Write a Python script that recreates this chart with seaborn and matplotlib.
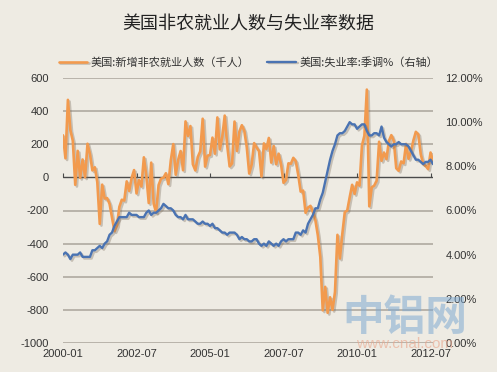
import numpy as np
import pandas as pd
import matplotlib
matplotlib.use("Agg")
import matplotlib.pyplot as plt
import matplotlib.patheffects as pe
import seaborn as sns

# ---------------- data ----------------
payrolls = [
    254, 115, 468, 286, 221, -45, 160, -3, 108, 0, 203, 141,          # 2000
    42, 61, -29, -281, -44, -128, -125, -160, -244, -325, -292, -178,  # 2001
    -135, -140, -24, -82, -4, 44, -97, -16, -55, 121, 9, -155,         # 2002
    89, -159, -211, -47, -8, -2, 25, -41, 103, 201, 16, 105,           # 2003
    159, 43, 338, 250, 310, 79, 42, 123, 157, 354, 65, 131,            # 2004
    135, 240, 143, 362, 169, 245, 373, 194, 66, 84, 337, 159,          # 2005
    277, 315, 280, 182, 23, 78, 207, 181, 158, 5, 205, 171,            # 2006
    238, 89, 189, 79, 143, 78, -33, -16, 85, 82, 118, 97,              # 2007
    15, -86, -80, -214, -182, -172, -210, -259, -350, -480, -803, -661,  # 2008
    -818, -724, -800, -692, -347, -490, -340, -210, -200, -120, -45, -100,  # 2009
    -30, -50, 192, 251, 530, -175, -60, -50, -20, 215, 100, 150,       # 2010
    110, 220, 255, 220, 55, 40, 96, 85, 202, 112, 157, 223,            # 2011
    275, 260, 140, 80, 70, 50, 150, 96,                                # 2012
]
unemployment = [
    4.0, 4.1, 4.0, 3.8, 4.0, 4.0, 4.0, 4.1, 3.9, 3.9, 3.9, 3.9,
    4.2, 4.2, 4.3, 4.4, 4.3, 4.5, 4.6, 4.9, 5.0, 5.3, 5.5, 5.7,
    5.7, 5.7, 5.7, 5.9, 5.8, 5.8, 5.8, 5.7, 5.7, 5.7, 5.9, 6.0,
    5.8, 5.9, 5.9, 6.0, 6.1, 6.3, 6.2, 6.1, 6.1, 6.0, 5.8, 5.7,
    5.7, 5.6, 5.8, 5.6, 5.6, 5.6, 5.5, 5.4, 5.4, 5.5, 5.4, 5.4,
    5.3, 5.4, 5.2, 5.2, 5.1, 5.0, 5.0, 4.9, 5.0, 5.0, 5.0, 4.9,
    4.7, 4.8, 4.7, 4.7, 4.6, 4.6, 4.7, 4.7, 4.5, 4.4, 4.5, 4.4,
    4.6, 4.5, 4.4, 4.5, 4.4, 4.6, 4.7, 4.6, 4.7, 4.7, 4.7, 5.0,
    5.0, 4.9, 5.1, 5.0, 5.4, 5.6, 5.8, 6.1, 6.1, 6.5, 6.8, 7.3,
    7.8, 8.3, 8.7, 9.0, 9.4, 9.5, 9.5, 9.6, 9.8, 10.0, 9.9, 9.9,
    9.7, 9.8, 9.9, 9.9, 9.6, 9.4, 9.4, 9.5, 9.5, 9.4, 9.8, 9.3,
    9.1, 9.0, 8.9, 9.0, 9.0, 9.1, 9.0, 9.0, 9.0, 8.9, 8.7, 8.5,
    8.3, 8.3, 8.2, 8.1, 8.2, 8.2, 8.3, 8.1,
]
month_index = list(range(len(payrolls)))
xtick_pos = [0, 30, 60, 90, 120, 150]
xtick_labels = ["2000-01", "2002-07", "2005-01", "2007-07", "2010-01", "2012-07"]
left_ticks = [600, 400, 200, 0, -200, -400, -600, -800, -1000]
right_ticks = [0, 2, 4, 6, 8, 10, 12]

title = "美国非农就业人数与失业率数据"
label_pay = "美国:新增非农就业人数（千人）"
label_unemp = "美国:失业率:季调%（右轴）"

df = pd.DataFrame({"month": month_index, "payrolls": payrolls, "unemployment": unemployment})

# ---------------- style ----------------
BG = "#EEEBE3"
ORANGE = "#F29A4E"
BLUE = "#4A73B2"
sns.set_theme(style="white")
plt.rcParams["font.family"] = ["Noto Sans CJK SC", "DejaVu Sans"]

fig = plt.figure(figsize=(4.97, 3.72), dpi=100, facecolor=BG)
ax = fig.add_axes([63 / 497, 1 - 343 / 372, (433 - 63) / 497, (343 - 78) / 372])
ax.set_facecolor(BG)
ax2 = ax.twinx()

shadow = [pe.SimpleLineShadow(offset=(1.2, -1.2), shadow_color="#7a6a5a", alpha=0.35), pe.Normal()]

sns.lineplot(data=df, x="month", y="payrolls", ax=ax, color=ORANGE, linewidth=1.9,
             label=label_pay, legend=False, zorder=3)
sns.lineplot(data=df, x="month", y="unemployment", ax=ax2, color=BLUE, linewidth=1.7,
             label=label_unemp, legend=False, zorder=3)
ax.lines[0].set_path_effects(shadow)
ax2.lines[0].set_path_effects(shadow)

ax.set_xlim(0, len(payrolls) - 1)
ax.set_ylim(-1000, 600)
ax2.set_ylim(0, 12)

# grid
for v in left_ticks:
    if v == 0:
        continue
    ax.axhline(v, color="#A9A49B", linewidth=1.1, zorder=1)
ax.axhline(0, color="#4a4a4a", linewidth=1.0, zorder=2)

for s in ["top", "right", "left", "bottom"]:
    ax.spines[s].set_visible(False)
    ax2.spines[s].set_visible(False)

tick_font = dict(family=["Liberation Sans", "DejaVu Sans"], size=8, color="#333333")
ax.set_yticks(left_ticks)
ax.set_yticklabels([str(v) for v in left_ticks], **tick_font)
ax.tick_params(axis="y", length=0, pad=10)
ax2.set_yticks(right_ticks)
ax2.set_yticklabels([f"{v:.2f}%" for v in right_ticks], **tick_font)
ax2.tick_params(axis="y", length=0, pad=9)

ax.set_xticks(xtick_pos)
ax.set_xticklabels(xtick_labels, **tick_font)
ax.tick_params(axis="x", length=0, pad=4)
ax.set_xlabel("")
ax.set_ylabel("")
ax2.set_ylabel("")

# tick marks on the zero line
sec = ax.secondary_xaxis(1000 / 1600)
sec.set_xticks(xtick_pos)
sec.set_xticklabels([""] * len(xtick_pos))
sec.tick_params(axis="x", direction="out", length=3, color="#4a4a4a", width=0.8)
sec.spines["bottom"].set_visible(False)
sec.spines["top"].set_visible(False)

# title
fig.text(0.5, 1 - 25 / 372, title, ha="center", va="center", fontsize=13, color="#222222")

# legend
h1, l1 = ax.get_legend_handles_labels()
h2, l2 = ax2.get_legend_handles_labels()
fig.legend(h1 + h2, l1 + l2, loc="center", bbox_to_anchor=(0.5, 1 - 62 / 372), ncol=2,
           frameon=False, fontsize=8, handlelength=2.6, columnspacing=1.6, handletextpad=0.3,
           labelcolor="#333333")

# watermark
fig.text(405 / 497, 1 - 318 / 372, "中铝网", ha="center", va="center", fontsize=30,
         color="#7FAAD2", alpha=0.55, fontweight="bold", zorder=10)
fig.text(405 / 497, 1 - 344 / 372, "www.cnal.com", ha="center", va="center", fontsize=11,
         color="#E9A48A", alpha=0.6, family=["Liberation Sans", "DejaVu Sans"], zorder=10)

fig.savefig("out.png", dpi=100, facecolor=BG)
